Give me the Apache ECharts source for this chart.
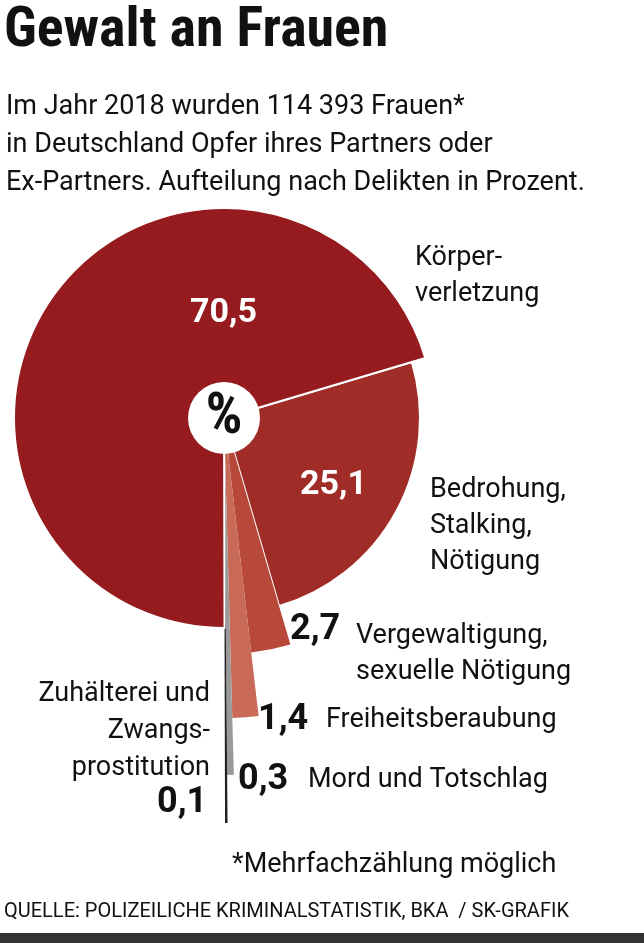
<!DOCTYPE html><html><head><meta charset="utf-8">
<script src="https://cdn.jsdelivr.net/npm/echarts@6/dist/echarts.min.js"></script>
<style>html,body{margin:0;background:#fff}#c{width:644px;height:943px}</style></head><body><div id="c"></div>
<script>
const categories=['Körperverletzung','Bedrohung, Stalking, Nötigung','Vergewaltigung, sexuelle Nötigung','Freiheitsberaubung','Mord und Totschlag','Zuhälterei und Zwangsprostitution'];
const values=[70.5,25.1,2.7,1.4,0.3,0.1];
const radii=[210,196,236,300,357,405];
const colors=['#951b1e','#a02c27','#b8483a','#c96a58','#9a9a9a','#222222'];
const seq=[1,2,3,4,5,0];
const fmt=v=>String(v).replace('.',',');
const N="'Liberation Sans Narrow','Roboto Condensed','Liberation Sans',sans-serif";
const R="Roboto,'Liberation Sans',sans-serif";
const center=[224,418];
const series=seq.map((k)=>({type:'pie',center,radius:[0,radii[k]],startAngle:16.6,clockwise:true,silent:true,label:{show:false},labelLine:{show:false},animation:false,
 data:seq.map(j=>({name:categories[j],value:values[j],itemStyle:{color:j===k?colors[j]:'rgba(0,0,0,0)',borderColor:j===k&&k<2?'#fff':'rgba(0,0,0,0)',borderWidth:j===k&&k<2?2:0}}))}));
series.push({type:'pie',center,radius:[0,36],silent:true,animation:false,label:{show:true,position:'center',formatter:'%',fontSize:58,fontWeight:'bold',color:'#111',fontFamily:N},data:[{value:1,itemStyle:{color:'#fff'}}]});
const TX=(o,t,font,extra)=>Object.assign({type:'text',z:100,style:Object.assign({text:t,font:font,fill:'#111'},extra||{})},o);
const body='normal 27px '+R, num='bold 36px '+R;
const g=[
 TX({left:4,top:4},'Gewalt an Frauen','bold 56px '+N),
 TX({left:6,top:88},'Im Jahr 2018 wurden 114 393 Frauen*\nin Deutschland Opfer ihres Partners oder\nEx-Partners. Aufteilung nach Delikten in Prozent.','normal 27px '+R,{lineHeight:38}),
 TX({left:190,top:296},fmt(values[0]),'bold 34px '+R,{fill:'#fff'}),
 TX({left:300,top:468},fmt(values[1]),'bold 34px '+R,{fill:'#fff'}),
 TX({left:415,top:240},'Körper-\nverletzung',body,{lineHeight:36}),
 TX({left:430,top:472},'Bedrohung,\nStalking,\nNötigung',body,{lineHeight:36}),
 TX({left:290,top:612},fmt(values[2]),num),
 TX({left:356,top:618},'Vergewaltigung,\nsexuelle Nötigung',body,{lineHeight:36}),
 TX({left:258,top:702},fmt(values[3]),num),
 TX({left:326,top:707},'Freiheitsberaubung',body),
 TX({left:238,top:762},fmt(values[4]),num),
 TX({left:308,top:767},'Mord und Totschlag',body),
 TX({right:434,top:676},'Zuhälterei und\nZwangs-\nprostitution',body,{lineHeight:37,textAlign:'right'}),
 TX({left:157,top:785},fmt(values[5]),num),
 TX({left:232,top:852},'*Mehrfachzählung möglich',body),
 TX({left:4,top:902},'QUELLE: POLIZEILICHE KRIMINALSTATISTIK, BKA  / SK-GRAFIK','normal 20px '+R),
 {type:'rect',z:100,left:0,top:933,shape:{width:644,height:10},style:{fill:'#333'}}
];
const ch=echarts.init(document.getElementById('c'));
ch.setOption({backgroundColor:'#fff',series,graphic:g});
</script></body></html>
